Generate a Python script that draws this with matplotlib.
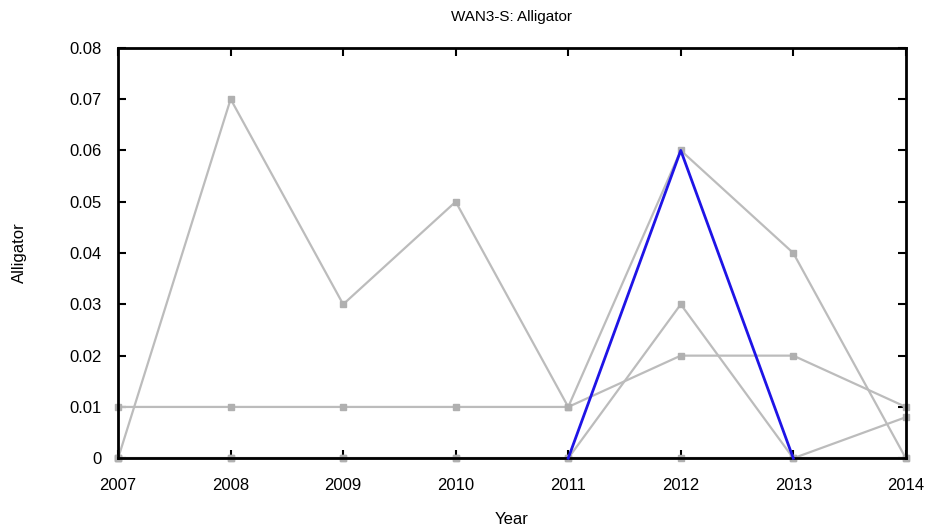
import matplotlib
matplotlib.use("Agg")
import matplotlib.pyplot as plt

plt.rcParams["font.family"] = ["Liberation Sans", "DejaVu Sans"]

years = [2007, 2008, 2009, 2010, 2011, 2012, 2013, 2014]

# grey reference series
series_a = [0.0, 0.07, 0.03, 0.05, 0.01, 0.06, 0.04, 0.0]
series_b = [0.01, 0.01, 0.01, 0.01, 0.01, 0.02, 0.02, 0.01]
series_c = [0.0, 0.0, 0.0, 0.0, 0.0, 0.03, 0.0, 0.008]
series_d = [0.0, 0.0, 0.0, 0.0, 0.0, 0.0, 0.0, 0.0]

# highlighted series
hl_years = [2011, 2012, 2013]
hl_values = [0.0, 0.06, 0.0]

grey = "#bcbcbc"

fig = plt.figure(figsize=(9.3, 5.31), dpi=100)
ax = fig.add_axes([0.127, 0.137, 0.847, 0.773])

for vals in (series_d, series_c, series_b, series_a):
    ax.plot(years, vals, color=grey, linewidth=1.6, marker="s", markersize=4.2,
            markerfacecolor="#b0b0b0", markeredgecolor="#b0b0b0", clip_on=False)

ax.plot(hl_years, hl_values, color="#1e14e6", linewidth=2.0, clip_on=False, zorder=5)

ax.set_xlim(2007, 2014)
ax.set_ylim(0, 0.08)
ax.set_xticks(years)
ax.set_yticks([0, 0.01, 0.02, 0.03, 0.04, 0.05, 0.06, 0.07, 0.08])
ax.set_yticklabels(["0", "0.01", "0.02", "0.03", "0.04", "0.05", "0.06", "0.07", "0.08"])
ax.tick_params(direction="in", length=6, width=1.5, top=True, right=True,
               labelsize=12, colors="black")
ax.tick_params(axis="x", pad=14)
ax.tick_params(axis="y", pad=12)
for sp in ax.spines.values():
    sp.set_linewidth(2)

ax.set_title("WAN3-S: Alligator", fontsize=11, pad=19)
ax.set_xlabel("Year", fontsize=12, labelpad=14)
ax.set_ylabel("Alligator", fontsize=12, labelpad=30)

fig.savefig("out.png", dpi=100)
